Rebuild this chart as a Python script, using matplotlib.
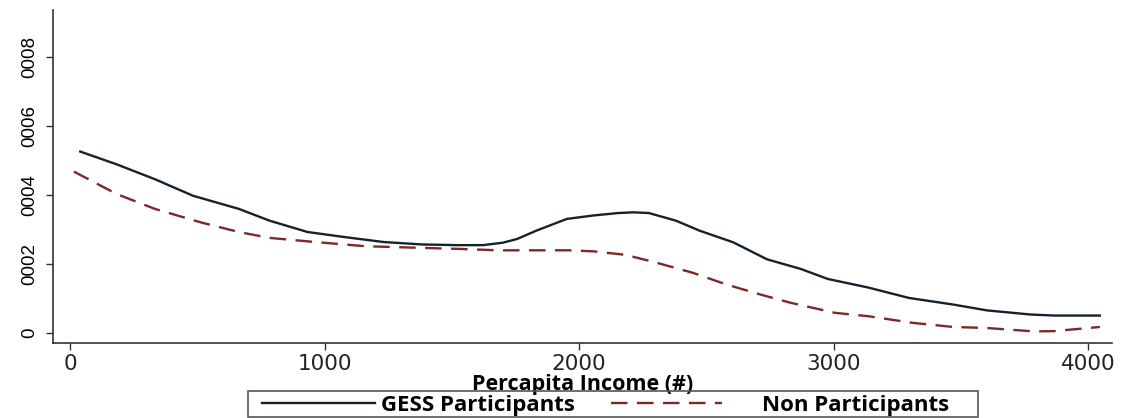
import matplotlib.pyplot as plt
from matplotlib.patches import Rectangle

# kernel density of per capita income
gess_income = [40, 183, 333, 483, 663, 783, 933, 1082, 1232, 1382, 1520, 1622, 1700, 1757,
               1832, 1952, 2057, 2154, 2214, 2274, 2380, 2473, 2606, 2738, 2871, 2977, 3137,
               3296, 3469, 3602, 3774, 3867, 4046]
gess_density = [5.26, 4.89, 4.46, 3.98, 3.60, 3.26, 2.93, 2.78, 2.64, 2.57, 2.55, 2.55, 2.62,
                2.73, 2.97, 3.31, 3.41, 3.48, 3.50, 3.48, 3.26, 2.97, 2.63, 2.14, 1.86, 1.57,
                1.32, 1.02, 0.83, 0.66, 0.54, 0.51, 0.51]

non_income = [15, 183, 333, 513, 663, 783, 963, 1157, 1382, 1532, 1682, 1832, 1960, 2057,
              2181, 2300, 2446, 2579, 2712, 2831, 3004, 3137, 3309, 3469, 3602, 3788, 3867,
              4046]
non_density = [4.68, 4.03, 3.60, 3.21, 2.93, 2.76, 2.64, 2.52, 2.47, 2.44, 2.40, 2.40, 2.40,
               2.37, 2.27, 2.05, 1.75, 1.41, 1.12, 0.88, 0.59, 0.49, 0.30, 0.18, 0.15, 0.05,
               0.06, 0.18]

x_ticks = [0, 1000, 2000, 3000, 4000]
y_ticks = [0, 0.0002, 0.0004, 0.0006, 0.0008]
y_ticklabels = ['0', '0002', '0004', '0006', '0008']

gess_density = [v * 1e-4 for v in gess_density]
non_density = [v * 1e-4 for v in non_density]

fig = plt.figure(figsize=(11.29, 4.18), dpi=100)
ax = fig.add_axes([0.047, 0.179, 0.938, 0.797])

gess_line, = ax.plot(gess_income, gess_density, color='#14222e', lw=1.7,
                     label='GESS Participants')
non_line, = ax.plot(non_income, non_density, color='#7d2828', lw=1.7, dashes=(7, 4),
                    label='Non Participants')

ax.set_xlim(-67, 4094)
ax.set_ylim(-0.000029, 0.000936)

for side in ['top', 'right']:
    ax.spines[side].set_visible(False)
for side in ['left', 'bottom']:
    ax.spines[side].set_color('#333333')
    ax.spines[side].set_linewidth(1.2)

ax.set_xticks(x_ticks)
ax.set_xticklabels([str(t) for t in x_ticks], fontsize=15.5, family='DejaVu Sans',
                   color='#222222')
ax.set_yticks(y_ticks)
ax.set_yticklabels(y_ticklabels, rotation=90, va='center', fontsize=13.5,
                   family=['Liberation Sans Narrow', 'Liberation Sans'])
ax.tick_params(axis='both', length=5, width=1, color='#333333', pad=3)
ax.tick_params(axis='y', pad=6)

ax.set_xlabel('Percapita Income (#)', fontsize=15.5, fontweight='bold', family='Open Sans',
              labelpad=0)

# legend: one framed box, two keys placed inside it
legend_font = {'family': 'Open Sans', 'weight': 'bold', 'size': 16}
fig.legend(handles=[gess_line], loc='center left',
           bbox_to_anchor=(262 / 1129, 0.031), prop=legend_font,
           handlelength=5.1, handletextpad=0.25, borderpad=0, borderaxespad=0,
           frameon=False)
fig.legend(handles=[non_line], loc='center left',
           bbox_to_anchor=(611 / 1129, 0.031), prop=legend_font,
           handlelength=5.0, handletextpad=1.8, borderpad=0, borderaxespad=0,
           frameon=False)
fig.patches.append(Rectangle((248 / 1129, 0.0024), 730 / 1129, 0.0622,
                             transform=fig.transFigure, fill=False,
                             edgecolor='#555555', lw=1.2))

fig.savefig('out.png', dpi=100)
